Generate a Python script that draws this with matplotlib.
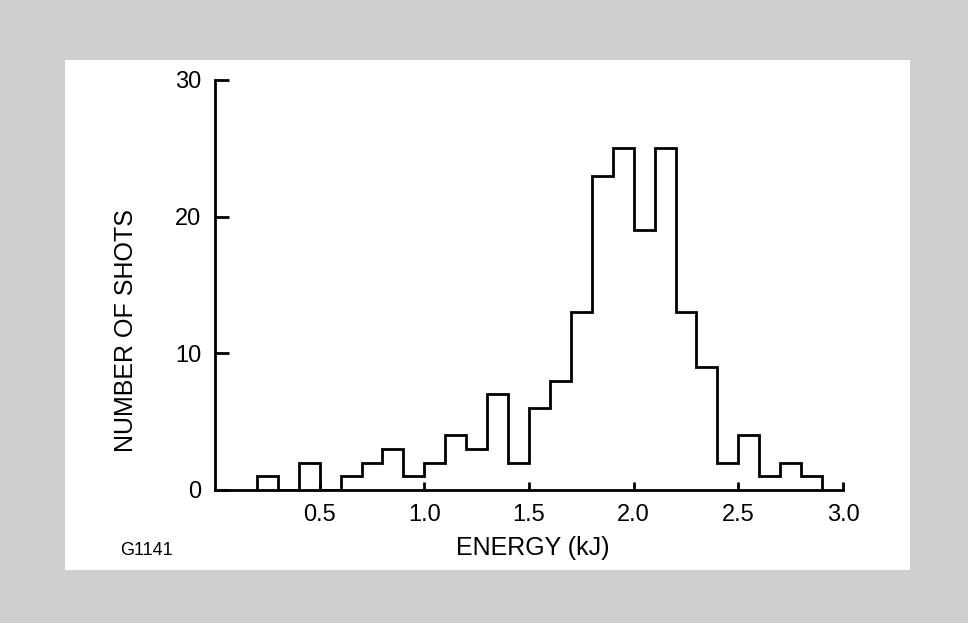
import matplotlib.pyplot as plt
from matplotlib.patches import Rectangle

plt.rcParams['font.family'] = ['Liberation Sans', 'DejaVu Sans']

# histogram of shot energies, 0.1 kJ bins from 0.2 to 2.9 kJ
bin_start = 0.2
bin_width = 0.1
counts = [1, 0, 2, 0, 1, 2, 3, 1, 2, 4, 3, 7, 2, 6, 8, 13,
          23, 25, 19, 25, 13, 9, 2, 4, 1, 2, 1]
edges = [round(bin_start + i * bin_width, 2) for i in range(len(counts) + 1)]

xticks = [0.5, 1.0, 1.5, 2.0, 2.5, 3.0]
xtick_labels = ['0.5', '1.0', '1.5', '2.0', '2.5', '3.0']
yticks = [0, 10, 20, 30]

fig = plt.figure(figsize=(9.68, 6.23), dpi=100, facecolor='#cfcfcf')
fig.patches.append(Rectangle((0.067, 0.085), 0.873, 0.819, transform=fig.transFigure,
                             facecolor='white', edgecolor='none', zorder=-5))

ax = fig.add_axes([0.2221, 0.2135, 0.6488, 0.6581])
ax.set_facecolor('none')
ax.stairs(counts, edges, baseline=0, color='black', linewidth=2.0)

ax.set_xlim(0, 3.0)
ax.set_ylim(0, 30)
ax.set_xticks(xticks)
ax.set_xticklabels(xtick_labels)
ax.set_yticks(yticks)

for s in ['top', 'right']:
    ax.spines[s].set_visible(False)
for s in ['left', 'bottom']:
    ax.spines[s].set_linewidth(2.0)

ax.tick_params(axis='y', direction='in', length=10, width=2.0, labelsize=17, pad=10)
ax.tick_params(axis='x', direction='in', length=6, width=2.0, labelsize=17, pad=10)

fig.text(0.130, 0.469, 'NUMBER OF SHOTS', rotation=90, ha='center', va='center', fontsize=18)
fig.text(0.550, 0.120, 'ENERGY (kJ)', ha='center', va='center', fontsize=18)
fig.text(0.151, 0.117, 'G1141', ha='center', va='center', fontsize=13)

fig.savefig('out.png', dpi=100, facecolor=fig.get_facecolor())
